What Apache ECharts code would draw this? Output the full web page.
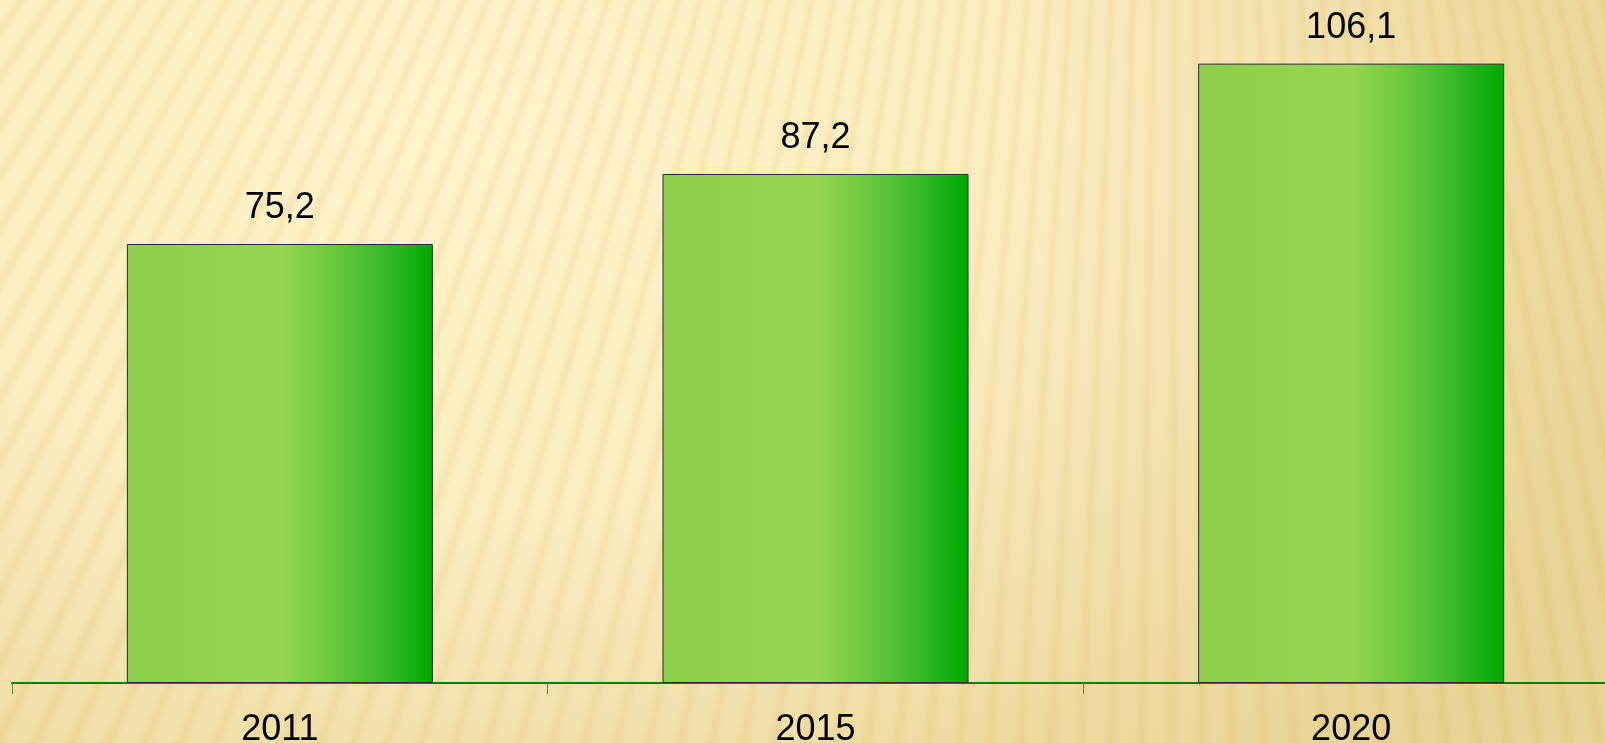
<!DOCTYPE html>
<html>
<head>
<meta charset="utf-8">
<script src="https://cdn.jsdelivr.net/npm/echarts@6/dist/echarts.min.js"></script>
<style>
  html, body { margin: 0; padding: 0; }
  .chart-wrap {
    width: 1605px;
    height: 743px;
    /* fan of soft stripes over a warm cream tone */
    background:
      repeating-conic-gradient(from 180deg at 1180px -1670px,
        rgba(205, 160, 60, 0) 0deg,
        rgba(205, 160, 60, 0.12) 0.15deg,
        rgba(205, 160, 60, 0.12) 0.21deg,
        rgba(205, 160, 60, 0) 0.38deg,
        rgba(205, 160, 60, 0) 0.72deg),
      radial-gradient(ellipse 1300px 900px at 450px 120px, #fff3ca 0%, #fbedc0 45%, #efdba2 80%, #e9d396 100%);
  }
  #main { width: 1605px; height: 743px; }
</style>
</head>
<body>
<div class="chart-wrap"><div id="main"></div></div>
<script>
// 年份 / 数值
const categories = ['2011', '2015', '2020']
const values = [75.2, 87.2, 106.1]

const chart = echarts.init(document.getElementById('main'))

const barFill = new echarts.graphic.LinearGradient(0, 0, 1, 0, [
  { offset: 0, color: '#8ccf4c' },
  { offset: 0.5, color: '#96d455' },
  { offset: 0.67, color: '#6cc83f' },
  { offset: 0.84, color: '#38b92b' },
  { offset: 1, color: '#00a900' }
])

const option = {
  backgroundColor: 'transparent',
  animation: false,
  grid: {
    left: 12,
    width: 1607, // 右侧超出画布
    top: 0,
    height: 683,
    containLabel: false,
    outerBoundsMode: 'none'
  },
  xAxis: {
    type: 'category',
    data: categories,
    axisLine: {
      lineStyle: { color: '#1c760c', width: 2 }
    },
    axisTick: {
      show: true,
      length: 11,
      lineStyle: { color: '#4f9330', width: 1 }
    },
    axisLabel: {
      color: '#000',
      fontSize: 36,
      fontFamily: 'Liberation Sans, Arial, sans-serif',
      margin: 29
    }
  },
  yAxis: {
    type: 'value',
    show: false,
    min: 0,
    max: 117,
    splitLine: { show: false }
  },
  series: [{
    type: 'bar',
    data: values,
    barWidth: 306,
    itemStyle: {
      color: barFill,
      borderColor: '#2a2a2a',
      borderWidth: 1
    },
    label: {
      show: true,
      position: 'top',
      distance: 18,
      color: '#000',
      fontSize: 36,
      fontFamily: 'Liberation Sans, Arial, sans-serif',
      formatter: (p) => p.value.toFixed(1).replace('.', ',')
    }
  }]
}

chart.setOption(option)
</script>
</body>
</html>
